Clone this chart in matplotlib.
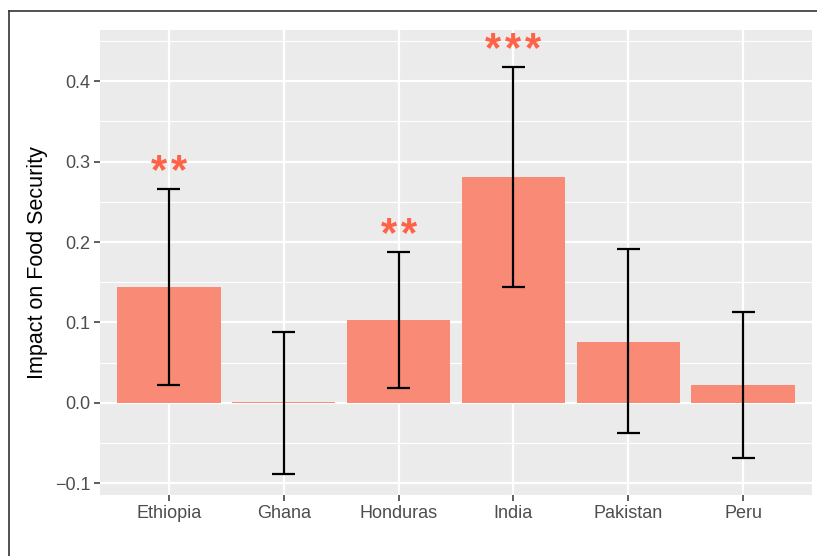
import matplotlib.pyplot as plt
from matplotlib.lines import Line2D
import numpy as np

countries = ['Ethiopia', 'Ghana', 'Honduras', 'India', 'Pakistan', 'Peru']
estimate = [0.144, 0.001, 0.103, 0.281, 0.076, 0.022]
lower = [0.022, -0.088, 0.018, 0.144, -0.038, -0.069]
upper = [0.266, 0.088, 0.188, 0.418, 0.191, 0.113]
stars = ['**', '', '**', '***', '', '']

y_major = [-0.1, 0.0, 0.1, 0.2, 0.3, 0.4]
y_minor = [-0.05, 0.05, 0.15, 0.25, 0.35, 0.45]
y_labels = ['\u22120.1', '0.0', '0.1', '0.2', '0.3', '0.4']

plt.rcParams['font.family'] = ['Liberation Sans', 'DejaVu Sans']

fig = plt.figure(figsize=(8.17, 5.56), dpi=100)
ax = fig.add_axes([100/817, 61/556, 712/817, 465/556])
ax.set_facecolor('#EBEBEB')

x = np.arange(1, len(countries) + 1)

# grid
for v in y_minor:
    ax.axhline(v, color='white', lw=0.8, zorder=0)
for v in y_major:
    ax.axhline(v, color='white', lw=1.6, zorder=0)
for v in x:
    ax.axvline(v, color='white', lw=1.6, zorder=0)

ax.bar(x, estimate, width=0.9, color='#F98A76', zorder=2)

# error bars
ax.vlines(x, lower, upper, color='black', lw=1.6, zorder=3)
ax.hlines(lower, x - 0.1, x + 0.1, color='black', lw=1.6, zorder=3)
ax.hlines(upper, x - 0.1, x + 0.1, color='black', lw=1.6, zorder=3)

# significance stars, drawn one by one so they are spread like the original
for xi, up, s in zip(x, upper, stars):
    n = len(s)
    for i, ch in enumerate(s):
        dx = (i - (n - 1) / 2) * 14.4
        ax.annotate(ch, xy=(xi, up + 0.031), xytext=(dx, -13.8), textcoords='offset points',
                    ha='center', va='baseline', fontsize=30, fontweight='bold',
                    color='#FF6347', zorder=4)

ax.set_xlim(0.4, 6.6)
ax.set_ylim(-0.1145, 0.4637)
ax.set_xticks(x)
ax.set_xticklabels(countries)
ax.set_yticks(y_major)
ax.set_yticklabels(y_labels)
ax.tick_params(axis='both', length=4.1, width=1.1, color='#333333',
               labelcolor='#4D4D4D', labelsize=13, pad=3)
for sp in ax.spines.values():
    sp.set_visible(False)
ax.set_ylabel('Impact on Food Security', fontsize=15.5, color='black', labelpad=5)

# outer frame (left and top edges)
fig.add_artist(Line2D([9/817, 9/817], [0, 1 - 11/556], transform=fig.transFigure,
                      color='#333333', lw=1.2))
fig.add_artist(Line2D([9/817, 1], [1 - 11/556, 1 - 11/556], transform=fig.transFigure,
                      color='#333333', lw=1.2))

plt.savefig('out.png', dpi=100)
